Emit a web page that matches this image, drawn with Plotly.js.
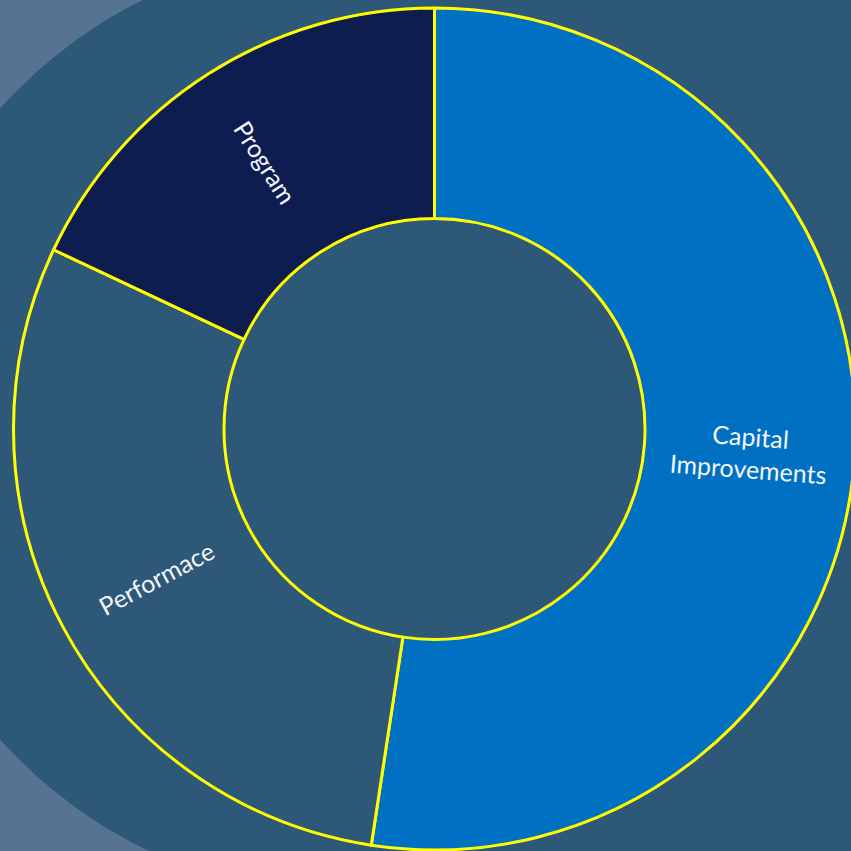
<!DOCTYPE html>
<html>
<head>
<meta charset="utf-8">
<script src="https://cdn.plot.ly/plotly-3.0.1.min.js"></script>
<style>
html, body { margin: 0; padding: 0; overflow: hidden; background: #2E5878; }
#chart { width: 856px; height: 851px; }
</style>
</head>
<body>
<div id="chart"></div>
<script>
var categories = ["Capital<br>Improvements", "Performace", "Program"];
var values = [52.4, 29.6, 18.0];
var sliceColors = ["#0071C2", "#2E5878", "#0D1D50"];

var W = 856, H = 851;
var M = { l: 13, r: 0, t: 8, b: 1 };
var HOLE = 0.5;

var trace = {
  type: "pie",
  labels: categories,
  values: values,
  sort: false,
  direction: "clockwise",
  rotation: 0,
  hole: HOLE,
  textinfo: "none",
  marker: { colors: sliceColors, line: { color: "#FFFF00", width: 3 } },
  hoverinfo: "none",
  showlegend: false
};

// radial labels at the middle of the ring, placed from the values
var plotW = W - M.l - M.r, plotH = H - M.t - M.b;
var rPx = Math.min(plotW, plotH) / 2;
var rMid = rPx * (1 + HOLE) / 2;
var total = values.reduce(function (a, b) { return a + b; }, 0);
var annotations = [];
var cum = 0;
for (var i = 0; i < values.length; i++) {
  var mid = (cum + values[i] / 2) / total * 360;
  cum += values[i];
  var rad = mid * Math.PI / 180;
  var ang = mid < 180 ? mid - 90 : mid - 270;
  annotations.push({
    xref: "paper", yref: "paper",
    x: 0.5 + rMid * Math.sin(rad) / plotW,
    y: 0.5 + rMid * Math.cos(rad) / plotH,
    xanchor: "center", yanchor: "middle",
    text: categories[i],
    showarrow: false,
    textangle: ang,
    align: "center",
    font: { family: "Lato, 'Open Sans', sans-serif", size: 25, color: "#F2F4F8" }
  });
}

var layout = {
  width: W,
  height: H,
  margin: M,
  paper_bgcolor: "#2E5878",
  plot_bgcolor: "rgba(0,0,0,0)",
  showlegend: false,
  annotations: annotations,
  shapes: [
    {
      type: "rect", xref: "paper", yref: "paper",
      x0: -0.2, x1: 0.40, y0: -0.2, y1: 1.2,
      fillcolor: "#567391", line: { width: 0 }, layer: "below"
    },
    {
      type: "circle", xref: "paper", yref: "paper",
      x0: -0.158, x1: 0.964, y0: -0.056, y1: 1.068,
      fillcolor: "#2E5878", line: { width: 0 }, layer: "below"
    }
  ]
};

Plotly.newPlot("chart", [trace], layout, { displayModeBar: false, staticPlot: true });
</script>
</body>
</html>
